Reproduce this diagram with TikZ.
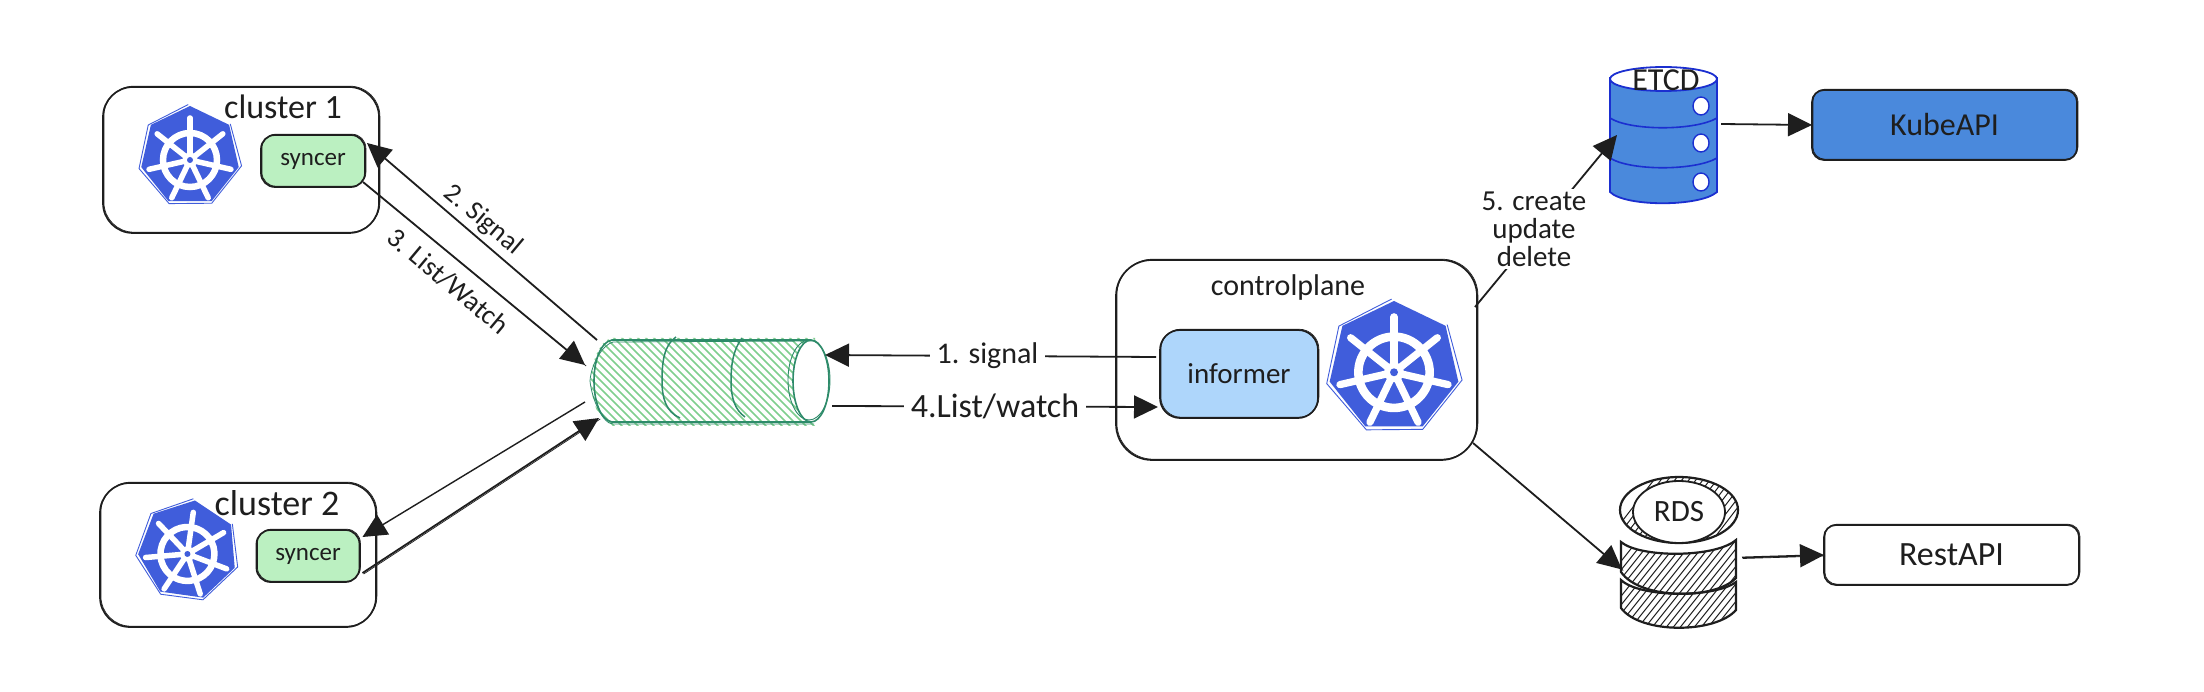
\documentclass[tikz,border=0pt]{standalone}
\usepackage{fontspec}
\setmainfont{Carlito}
\usetikzlibrary{arrows.meta,calc}
\definecolor{ink}{HTML}{1E1E1E}
\definecolor{kube}{HTML}{405DDB}
\definecolor{kubeapi}{HTML}{4A89DC}
\definecolor{etcdline}{HTML}{1B2FD0}
\definecolor{syncgreen}{HTML}{BBF0C1}
\definecolor{infblue}{HTML}{AED6FB}
\definecolor{qline}{HTML}{2E8B6A}
\definecolor{qhatch}{HTML}{7FCF8E}
\newcommand{\fs}[1]{\fontsize{#1}{#1}\selectfont}
\newcommand{\kubeicon}[5]{%
  \begin{scope}[shift={(#1,#2)},y=1pt,rotate=#4]
    \pgfmathsetmacro{\rr}{#3}
    \fill[kube] (90:\rr) -- (90+360/7:\rr) -- (90+720/7:\rr) -- (90+1080/7:\rr) -- (90+1440/7:\rr) -- (90+1800/7:\rr) -- (90+2160/7:\rr) -- cycle;
    \draw[kube,line width=.9pt] (92:\rr*1.03) -- (92+360/7:\rr*1.04) -- (91+720/7:\rr*1.05) -- (92+1080/7:\rr*1.04) -- (89+1440/7:\rr*1.04) -- (92+1800/7:\rr*1.05) -- (90+2160/7:\rr*1.03);
    \draw[white,line width=\rr*.13 pt] (0,-\rr*.08) circle ({\rr*.54});
    \foreach \a in {0,1,...,6}{
      \draw[white,line width=\rr*.11 pt,line cap=round] (0,-\rr*.08) -- ($(0,-\rr*.08)+(90+\a*360/7:\rr*.84)$);
    }
    \fill[white] (0,-\rr*.08) circle ({\rr*.15});
    \fill[kube] (0,-\rr*.08) circle ({\rr*.06});
    \node[#5,minimum size=1pt,inner sep=0pt] at (0,0) {};
  \end{scope}}
\tikzset{
  txt/.style={text=ink,inner sep=0pt,align=center},
  box/.style={draw=ink,line width=1.7pt,rounded corners=#1,inner sep=0pt,outer sep=0pt,text=ink,
    postaction={draw=ink,line width=.7pt,rounded corners=#1,transform canvas={shift={(.9pt,.8pt)}}}},
  conn/.style={draw=ink,line width=1.8pt,-{Triangle[length=24pt,width=23pt]}},
  connb/.style={conn,postaction={draw=ink,line width=.7pt,-,transform canvas={shift={(1.2pt,-1pt)}}}},
}
\begin{document}
\begin{tikzpicture}[x=1pt,y=-1pt]
\fill[white] (0,0) rectangle (2204,692);
\useasboundingbox (0,0) rectangle (2204,692);

% clusters
\node[box=30pt,minimum width=276pt,minimum height=146pt] (cluster1) at (241,160) {};
\kubeicon{190}{156}{50}{0}{name=k1}
\node[txt,font=\fs{34}] (c1title) at (283,107) {cluster 1};
\node[box=14pt,fill=syncgreen,minimum width=104pt,minimum height=52pt,font=\fs{25}] (syncer1) at (313,161) {syncer};

\node[box=30pt,minimum width=276pt,minimum height=144pt] (cluster2) at (238,555) {};
\kubeicon{188}{550}{50}{-8}{name=k2}
\node[txt,font=\fs{36}] (c2title) at (277,503) {cluster 2};
\node[box=14pt,fill=syncgreen,minimum width=103pt,minimum height=52pt,font=\fs{25}] (syncer2) at (308,556) {syncer};

% queue
\node[minimum width=240pt,minimum height=82pt,inner sep=0pt,outer sep=0pt] (queue) at (714,381) {};
\begin{scope}
  \clip (612,338) .. controls (600,340) and (591,362) .. (591,381) .. controls (591,400) and (600,426) .. (612,426) -- (815,426) -- (815,338) -- cycle;
  \foreach \i in {0,1,...,42}{
    \draw[qhatch,line width=1.5pt] (500+\i*8,336) -- (500+\i*8+92,428);
  }
\end{scope}
\fill[white] (811,381) ellipse [x radius=18,y radius=41];
\draw[qline,line width=1.6pt] (811,340) -- (612,340) .. controls (600,342) and (594,362) .. (594,381) .. controls (594,400) and (600,420) .. (612,422) -- (811,422);
\draw[qline,line width=.8pt] (815,341) -- (613,342) .. controls (602,345) and (591,365) .. (590,381) .. controls (592,400) and (603,424) .. (613,424) -- (814,424);
\draw[qline,line width=1.6pt] (811,381) ellipse [x radius=18,y radius=41];
\draw[qline,line width=.9pt] (809,380) ellipse [x radius=21,y radius=40];
\draw[qline,line width=1.5pt] (676,337) .. controls (664,345) and (662,362) .. (662,381) .. controls (662,398) and (666,412) .. (680,418);
\draw[qline,line width=1.5pt] (742,338) .. controls (733,350) and (731,365) .. (731,381) .. controls (731,398) and (735,410) .. (745,417);

% controlplane
\node[box=36pt,minimum width=361pt,minimum height=200pt] (cp) at (1296.5,360) {};
\node[txt,font=\fs{30}] (cptitle) at (1288,288) {controlplane};
\node[box=20pt,fill=infblue,minimum width=158pt,minimum height=88pt,font=\fs{29}] (informer) at (1239,374) {informer};
\kubeicon{1394}{367}{66}{0}{name=k3}

% etcd
\node[minimum width=107pt,minimum height=136pt,inner sep=0pt,outer sep=0pt] (etcd) at (1663.5,135) {};
\draw[etcdline,fill=kubeapi,line width=1.8pt] (1610,78) -- (1610,192) .. controls (1625,207) and (1700,207) .. (1717,192) -- (1717,78) -- cycle;
\draw[etcdline,fill=white,line width=1.8pt] (1663.5,79) ellipse [x radius=53.5,y radius=12];
\draw[etcdline,line width=1.6pt] (1610,118) .. controls (1630,131) and (1695,131) .. (1717,118);
\draw[etcdline,line width=1.6pt] (1610,158) .. controls (1630,171) and (1695,171) .. (1717,158);
\foreach \yy in {106,143,182}{
  \draw[etcdline,fill=white,line width=1.4pt] (1701,\yy) ellipse [x radius=8,y radius=9];
}
\node[txt,font=\fs{32}] (etcdtitle) at (1666,80) {ETCD};

\node[box=12pt,fill=kubeapi,minimum width=265pt,minimum height=70pt,font=\fs{32}] (kubeapi) at (1944.5,125) {KubeAPI};

% rds
\node[minimum width=117pt,minimum height=149pt,inner sep=0pt,outer sep=0pt] (rds) at (1678.5,552.5) {};
\begin{scope}
  \clip (1679,510) ellipse [x radius=59,y radius=33];
  \foreach \i in {0,1,...,24}{
    \draw[ink,line width=1pt] (1600+\i*7,550) -- (1600+\i*7+60,472);
  }
\end{scope}
\draw[ink,line width=2.2pt] (1679,510) ellipse [x radius=59,y radius=33];
\draw[ink,fill=white,line width=1.8pt] (1679,512) ellipse [x radius=46,y radius=31];
\begin{scope}
  \clip (1621,542) .. controls (1640,558) and (1715,558) .. (1736,540) -- (1736,578) .. controls (1715,600) and (1640,600) .. (1621,572) -- cycle;
  \foreach \i in {0,1,...,24}{
    \draw[ink,line width=1pt] (1590+\i*7,600) -- (1590+\i*7+52,535);
  }
\end{scope}
\draw[ink,line width=2.2pt] (1621,542) .. controls (1640,558) and (1715,558) .. (1736,540) -- (1736,578) .. controls (1715,600) and (1640,600) .. (1621,572) -- cycle;
\begin{scope}
  \clip (1621,580) .. controls (1640,598) and (1715,598) .. (1736,582) -- (1736,610) .. controls (1715,634) and (1640,634) .. (1621,608) -- cycle;
  \foreach \i in {0,1,...,24}{
    \draw[ink,line width=1pt] (1590+\i*7,635) -- (1590+\i*7+52,570);
  }
\end{scope}
\draw[ink,line width=2.2pt] (1621,580) .. controls (1640,598) and (1715,598) .. (1736,582) -- (1736,610) .. controls (1715,634) and (1640,634) .. (1621,608) -- cycle;
\node[txt,font=\fs{31}] (rdstitle) at (1679,512) {RDS};

\node[box=12pt,minimum width=255pt,minimum height=60pt,font=\fs{34},fill=white] (restapi) at (1951.5,555) {RestAPI};

% connector labels
\node[txt,font=\fs{27},rotate=-40] (l2) at (483,220) {2. Signal};
\node[txt,font=\fs{27.5},rotate=-40] (l3) at (448,281) {3. List/Watch};

% connectors
\draw[conn] ($(queue.north west)+(3,-0)$) -- ($(syncer1.east)+(2,-18)$);
\draw[connb] ($(syncer1.south east)+(-2,-5)$) -- ($(queue.west)+(-9,-16)$);
\draw[conn,line width=1.4pt] ($(queue.west)+(-9,21)$) -- ($(syncer2.east)+(3,-19)$);
\draw[connb] ($(syncer2.east)+(3,17)$) -- ($(queue.south west)+(5,-4)$);

\draw[conn] ($(informer.west)+(-4,-17)$) -- node[pos=.5,fill=white,inner sep=7pt,text=ink,font=\fs{30},xshift=-3pt] (l1) {1. signal} ($(queue.east)+(-9,-26)$);
\draw[conn] ($(queue.east)+(-2,25)$) -- node[pos=.5,fill=white,inner sep=7pt,text=ink,font=\fs{34}] (l4) {4.List/watch} ($(informer.west)+(-2,33)$);

\draw[conn] ($(cp.north east)+(-2,47)$) -- ($(etcd.west)+(7,0)$);
\node[txt,fill=white,inner sep=3pt,font=\fs{29}] (l5) at (1534,229) {5. create\\[-1pt]update\\[-1pt]delete};
\draw[connb] ($(cp.south east)+(-4,-17)$) -- ($(rds.west)+(2,17)$);
\draw[conn] ($(etcd.east)+(4,-11)$) -- (kubeapi.west);
\draw[connb] ($(rds.east)+(5,5)$) -- (restapi.west);
\end{tikzpicture}
\end{document}
